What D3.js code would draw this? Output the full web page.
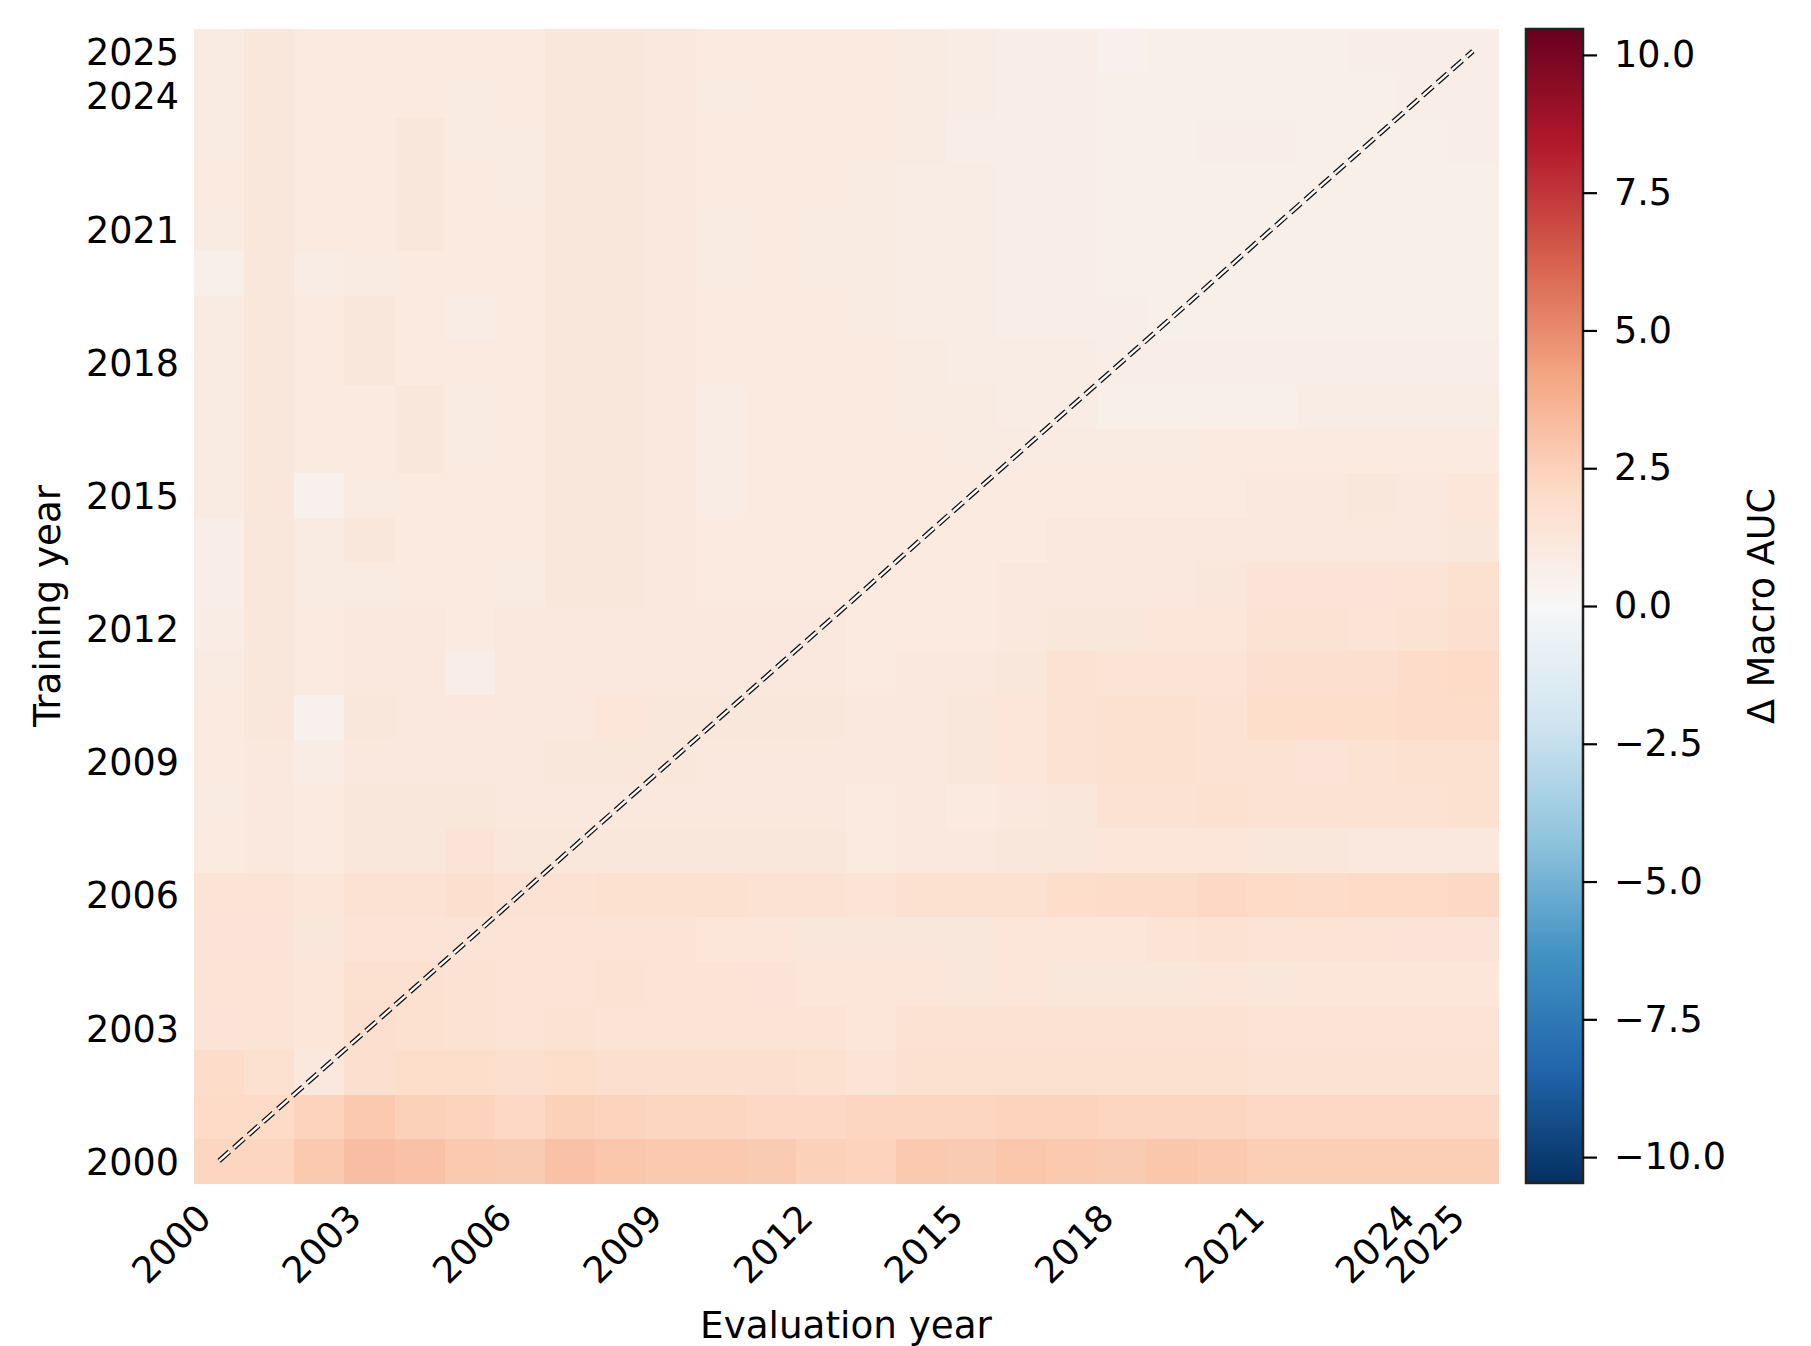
<!DOCTYPE html>
<html>
<head>
<meta charset="utf-8">
<script src="https://cdn.jsdelivr.net/npm/d3@7"></script>
<style>
  body { margin: 0; background: #fff; }
  svg text { font-family: "DejaVu Sans", sans-serif; fill: #000; }
  .axis path { display: none; }
</style>
</head>
<body>
<div id="chart"></div>
<script>
// years on both axes
var years = d3.range(2000, 2026);
var tickYears = [2000, 2003, 2006, 2009, 2012, 2015, 2018, 2021, 2024, 2025];
var cbarTicks = [-10, -7.5, -5, -2.5, 0, 2.5, 5, 7.5, 10];
var vmax = 10.47;

// delta macro AUC, one row per training year, columns = evaluation year 2000..2025
var row2000 = [2.3, 2.3, 2.8, 3.2, 3.1, 2.8, 2.7, 3.1, 2.9, 2.8, 2.8, 2.7, 2.5, 2.4, 2.8, 2.7, 2.9, 2.8, 2.7, 2.9, 2.8, 2.6, 2.6, 2.6, 2.6, 2.6];
var row2001 = [2.1, 2.1, 2.4, 2.8, 2.5, 2.4, 2.2, 2.5, 2.4, 2.3, 2.3, 2.2, 2.2, 2.3, 2.3, 2.3, 2.4, 2.4, 2.3, 2.3, 2.3, 2.2, 2.2, 2.2, 2.2, 2.2];
var row2002 = [2.0, 1.7, 1.1, 1.8, 1.9, 1.9, 1.8, 1.9, 1.8, 1.8, 1.8, 1.8, 1.7, 1.5, 1.7, 1.7, 1.7, 1.7, 1.7, 1.7, 1.7, 1.6, 1.6, 1.6, 1.6, 1.6];
var row2003 = [1.4, 1.5, 1.3, 1.8, 1.7, 1.6, 1.5, 1.6, 1.5, 1.5, 1.5, 1.5, 1.5, 1.3, 1.6, 1.6, 1.6, 1.6, 1.6, 1.6, 1.6, 1.5, 1.5, 1.5, 1.5, 1.5];
var row2004 = [1.5, 1.5, 1.3, 1.7, 1.7, 1.6, 1.5, 1.5, 1.6, 1.5, 1.5, 1.4, 1.3, 1.3, 1.3, 1.2, 1.3, 1.2, 1.2, 1.2, 1.3, 1.2, 1.3, 1.3, 1.3, 1.3];
var row2005 = [1.4, 1.4, 1.2, 1.5, 1.5, 1.5, 1.5, 1.5, 1.5, 1.5, 1.3, 1.3, 1.2, 1.2, 1.2, 1.2, 1.3, 1.3, 1.3, 1.5, 1.6, 1.5, 1.5, 1.5, 1.4, 1.4];
var row2006 = [1.5, 1.5, 1.3, 1.6, 1.6, 1.8, 1.6, 1.6, 1.7, 1.7, 1.7, 1.6, 1.6, 1.5, 1.7, 1.7, 1.7, 1.9, 2.0, 2.0, 2.2, 2.1, 2.0, 2.1, 2.1, 2.2];
var row2007 = [1.0, 1.1, 1.0, 1.2, 1.2, 1.4, 1.2, 1.2, 1.2, 1.2, 1.2, 1.2, 1.2, 1.0, 1.1, 1.1, 1.2, 1.2, 1.3, 1.3, 1.3, 1.2, 1.2, 1.1, 1.1, 1.1];
var row2008 = [0.9, 1.1, 1.0, 1.2, 1.2, 1.2, 1.1, 1.1, 1.1, 1.1, 1.1, 1.1, 1.1, 1.0, 1.1, 1.0, 1.1, 1.2, 1.6, 1.6, 1.7, 1.6, 1.6, 1.6, 1.6, 1.7];
var row2009 = [1.0, 1.1, 0.8, 1.1, 1.1, 1.1, 1.1, 1.2, 1.2, 1.2, 1.1, 1.1, 1.1, 1.1, 1.1, 1.2, 1.3, 1.6, 1.7, 1.7, 1.6, 1.6, 1.4, 1.6, 1.7, 1.7];
var row2010 = [1.0, 1.2, 0.5, 1.2, 1.1, 1.1, 1.1, 1.1, 1.3, 1.2, 1.2, 1.2, 1.2, 1.1, 1.1, 1.2, 1.3, 1.6, 1.7, 1.7, 1.6, 1.9, 1.9, 1.9, 2.0, 2.0];
var row2011 = [0.9, 1.2, 1.0, 1.1, 1.1, 0.7, 1.1, 1.1, 1.1, 1.1, 1.1, 1.1, 1.1, 1.0, 1.1, 1.1, 1.2, 1.6, 1.5, 1.5, 1.5, 1.8, 1.8, 1.8, 2.0, 2.1];
var row2012 = [0.8, 1.2, 1.0, 1.1, 1.1, 1.0, 1.1, 1.1, 1.1, 1.1, 1.1, 1.1, 1.1, 1.0, 1.0, 1.0, 1.1, 1.2, 1.2, 1.3, 1.3, 1.6, 1.6, 1.5, 1.6, 1.8];
var row2013 = [0.7, 1.2, 0.9, 0.9, 1.0, 1.0, 0.9, 1.2, 1.2, 1.1, 1.0, 1.0, 1.0, 1.0, 1.0, 1.0, 1.1, 1.1, 1.1, 1.1, 1.2, 1.4, 1.4, 1.4, 1.5, 1.7];
var row2014 = [0.7, 1.2, 0.9, 1.2, 1.0, 1.0, 1.0, 1.2, 1.2, 1.1, 1.0, 1.0, 1.0, 1.0, 1.0, 1.0, 1.0, 1.1, 1.1, 1.1, 1.1, 1.1, 1.1, 1.1, 1.1, 1.2];
var row2015 = [0.9, 1.2, 0.5, 0.9, 1.0, 1.0, 1.0, 1.2, 1.2, 1.1, 0.8, 1.0, 1.0, 1.0, 1.0, 1.0, 1.0, 1.0, 1.0, 1.0, 1.0, 1.1, 1.1, 1.2, 1.1, 1.3];
var row2016 = [0.9, 1.2, 1.0, 1.0, 1.2, 0.9, 1.0, 1.2, 1.2, 1.1, 0.8, 1.0, 1.0, 1.0, 1.0, 0.9, 0.9, 0.9, 0.9, 0.9, 1.0, 1.0, 1.0, 1.0, 1.0, 1.0];
var row2017 = [0.9, 1.2, 1.0, 1.0, 1.2, 0.9, 1.0, 1.2, 1.2, 1.1, 0.8, 1.0, 1.0, 1.0, 0.9, 0.9, 0.8, 0.8, 0.6, 0.6, 0.6, 0.6, 0.8, 0.8, 0.8, 0.8];
var row2018 = [0.9, 1.2, 1.0, 1.2, 1.0, 1.0, 1.0, 1.2, 1.2, 1.1, 1.0, 1.0, 1.0, 1.0, 0.9, 0.8, 0.8, 0.8, 0.7, 0.7, 0.7, 0.7, 0.7, 0.7, 0.7, 0.7];
var row2019 = [0.9, 1.2, 1.0, 1.2, 1.0, 0.8, 1.0, 1.2, 1.2, 1.1, 1.0, 1.0, 1.0, 0.9, 0.8, 0.8, 0.7, 0.7, 0.7, 0.6, 0.6, 0.6, 0.6, 0.6, 0.6, 0.6];
var row2020 = [0.6, 1.2, 0.8, 0.9, 1.0, 1.0, 1.0, 1.2, 1.2, 1.1, 0.9, 1.0, 0.9, 0.9, 0.8, 0.8, 0.7, 0.7, 0.6, 0.6, 0.6, 0.6, 0.6, 0.6, 0.6, 0.6];
var row2021 = [0.9, 1.2, 1.0, 1.0, 1.2, 1.0, 1.0, 1.2, 1.2, 1.1, 0.9, 1.0, 0.9, 0.9, 0.8, 0.8, 0.7, 0.7, 0.6, 0.6, 0.6, 0.6, 0.6, 0.6, 0.6, 0.6];
var row2022 = [1.0, 1.2, 1.0, 1.0, 1.2, 1.0, 0.9, 1.2, 1.2, 1.1, 1.0, 1.0, 1.0, 0.9, 0.8, 0.8, 0.7, 0.7, 0.6, 0.6, 0.6, 0.6, 0.6, 0.6, 0.6, 0.6];
var row2023 = [0.9, 1.2, 1.0, 1.0, 1.2, 0.9, 0.9, 1.2, 1.2, 1.1, 1.0, 1.0, 1.0, 1.0, 0.9, 0.7, 0.7, 0.7, 0.6, 0.6, 0.7, 0.7, 0.6, 0.6, 0.6, 0.7];
var row2024 = [0.9, 1.2, 1.0, 1.0, 1.0, 0.9, 1.0, 1.2, 1.2, 1.1, 0.9, 1.0, 1.0, 1.0, 0.9, 0.8, 0.7, 0.7, 0.6, 0.6, 0.6, 0.6, 0.6, 0.6, 0.7, 0.7];
var row2025 = [0.9, 1.2, 1.0, 1.0, 1.0, 1.0, 1.0, 1.2, 1.2, 1.1, 1.0, 1.0, 1.0, 1.0, 0.9, 0.8, 0.7, 0.7, 0.5, 0.6, 0.6, 0.6, 0.6, 0.7, 0.7, 0.7];

var rows = [row2000, row2001, row2002, row2003, row2004, row2005, row2006, row2007, row2008, row2009,
            row2010, row2011, row2012, row2013, row2014, row2015, row2016, row2017, row2018, row2019,
            row2020, row2021, row2022, row2023, row2024, row2025];

var cells = [];
rows.forEach(function(r, i) {
  r.forEach(function(v, j) {
    cells.push({train: years[i], evalYear: years[j], value: v});
  });
});

// matplotlib RdBu_r, linear between the 11 anchor colours
var rdbu = ["#053061", "#2166ac", "#4393c3", "#92c5de", "#d1e5f0", "#f7f7f7",
            "#fddbc7", "#f4a582", "#d6604d", "#b2182b", "#67001f"];

var width = 1811, height = 1346;
var hm = {left: 194, top: 29, width: 1304, height: 1154};
var cb = {left: 1526, top: 29, width: 57, height: 1154};

var color = d3.scaleLinear()
  .domain(d3.range(11).map(function(i) { return -vmax + i * 2 * vmax / 10; }))
  .range(rdbu)
  .interpolate(d3.interpolateRgb)
  .clamp(true);

var svg = d3.select("#chart").append("svg")
  .attr("width", width)
  .attr("height", height);

var xScale = d3.scaleBand().domain(years).range([hm.left, hm.left + hm.width]);
var yScale = d3.scaleBand().domain(years.slice().reverse()).range([hm.top, hm.top + hm.height]);

svg.append("g").selectAll("rect")
  .data(cells).enter()
  .append("rect")
  .attr("x", function(d) { return xScale(d.evalYear); })
  .attr("y", function(d) { return yScale(d.train); })
  .attr("width", xScale.bandwidth() + 0.5)
  .attr("height", yScale.bandwidth() + 0.5)
  .attr("fill", function(d) { return color(d.value); })
  .attr("shape-rendering", "crispEdges");

// diagonal train == eval
var half = xScale.bandwidth() / 2, halfY = yScale.bandwidth() / 2;
var diag = [[xScale(2000) + half, yScale(2000) + halfY], [xScale(2025) + half, yScale(2025) + halfY]];
svg.append("line")
  .attr("x1", diag[0][0]).attr("y1", diag[0][1])
  .attr("x2", diag[1][0]).attr("y2", diag[1][1])
  .attr("stroke", "#111")
  .attr("stroke-width", 5)
  .attr("stroke-dasharray", "13.7,5.9");
svg.append("line")
  .attr("x1", diag[0][0]).attr("y1", diag[0][1])
  .attr("x2", diag[1][0]).attr("y2", diag[1][1])
  .attr("stroke", "#fff")
  .attr("stroke-width", 2.4)
  .attr("stroke-dasharray", "13.7,5.9");

var fontSize = 36.5;

// y axis
var yAxis = svg.append("g")
  .attr("class", "axis")
  .attr("transform", "translate(" + hm.left + ",0)")
  .call(d3.axisLeft(yScale).tickValues(tickYears).tickSize(0).tickPadding(15));
yAxis.selectAll("text")
  .style("font-size", fontSize + "px")
  .attr("font-family", "DejaVu Sans")
  .attr("dy", "0.38em");

// x axis, rotated labels
var xAxis = svg.append("g")
  .attr("class", "axis")
  .attr("transform", "translate(0," + (hm.top + hm.height) + ")")
  .call(d3.axisBottom(xScale).tickValues(tickYears).tickSize(0));
xAxis.selectAll("text")
  .style("font-size", fontSize + "px")
  .attr("font-family", "DejaVu Sans")
  .attr("text-anchor", "end")
  .attr("dy", "0")
  .attr("y", 0)
  .attr("transform", "translate(-6,37) rotate(-45)");

svg.append("text")
  .attr("x", hm.left + hm.width / 2)
  .attr("y", 1338)
  .attr("text-anchor", "middle")
  .style("font-size", "37.3px")
  .text("Evaluation year");

svg.append("text")
  .attr("transform", "translate(60," + (hm.top + hm.height / 2) + ") rotate(-90)")
  .attr("text-anchor", "middle")
  .style("font-size", "37.3px")
  .text("Training year");

// colorbar
var defs = svg.append("defs");
var grad = defs.append("linearGradient")
  .attr("id", "cbar")
  .attr("x1", "0").attr("y1", "1").attr("x2", "0").attr("y2", "0");
rdbu.forEach(function(c, i) {
  grad.append("stop").attr("offset", (i / 10 * 100) + "%").attr("stop-color", c);
});
svg.append("rect")
  .attr("x", cb.left).attr("y", cb.top)
  .attr("width", cb.width).attr("height", cb.height)
  .attr("fill", "url(#cbar)")
  .attr("stroke", "#222")
  .attr("stroke-width", 2.5);

var cScale = d3.scaleLinear().domain([-vmax, vmax]).range([cb.top + cb.height, cb.top]);
var cAxis = svg.append("g")
  .attr("transform", "translate(" + (cb.left + cb.width) + ",0)")
  .call(d3.axisRight(cScale).tickValues(cbarTicks).tickSize(14).tickPadding(17)
    .tickFormat(d3.format(".1f")));
cAxis.select(".domain").remove();
cAxis.selectAll("line").attr("stroke", "#000").attr("stroke-width", 2.2);
cAxis.selectAll("text")
  .style("font-size", fontSize + "px")
  .attr("font-family", "DejaVu Sans");

svg.append("text")
  .attr("transform", "translate(1774," + (cb.top + cb.height / 2) + ") rotate(-90)")
  .attr("text-anchor", "middle")
  .style("font-size", fontSize + "px")
  .text("\u0394 Macro AUC");
</script>
</body>
</html>
